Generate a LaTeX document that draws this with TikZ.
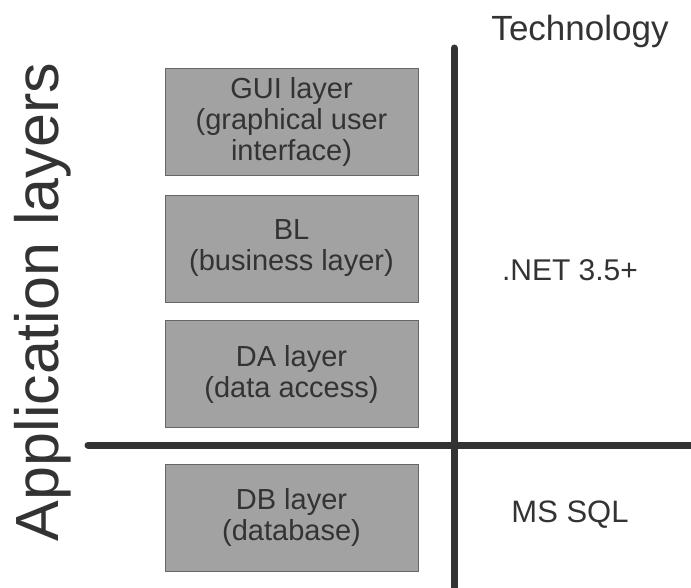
\documentclass[tikz,border=0pt]{standalone}
\usepackage{fontspec}
\setmainfont{Liberation Sans}
\usepackage{xcolor}
\usetikzlibrary{positioning}

\definecolor{layergray}{HTML}{A2A2A2}
\definecolor{inkgray}{HTML}{333333}

\begin{document}
\begin{tikzpicture}[
  x=1pt, y=-1pt,
  layer/.style={draw=inkgray!75, line width=1pt, fill=layergray, minimum width=253pt, minimum height=107pt, align=center, text=inkgray, font=\fontsize{29}{31}\selectfont, inner sep=0pt},
  divider/.style={inkgray, line width=7pt, line cap=round},
  label/.style={text=inkgray, inner sep=0pt},
]
  \useasboundingbox (0,0) rectangle (691,587);

  % Layers
  \node[layer] (gui) at (291.5,121.5) {GUI layer\\(graphical user\\interface)};
  \node[layer] (bl) at (291.5,248.5) {BL\\(business layer)};
  \node[layer] (da) at (291.5,374) {DA layer\\(data access)};
  \node[layer] (db) at (291.5,517.5) {DB layer\\(database)};

  % Dividers
  \coordinate (vtop) at (454,48);
  \coordinate (vbot) at (454,590);
  \coordinate (hleft) at (88,445);
  \coordinate (hright) at (694,445);
  \draw[divider] (vtop) -- (vbot);
  \draw[divider] (hleft) -- (hright);

  % Technology column
  \node[label, font=\fontsize{35}{35}\selectfont] (tech) at (580,31) {Technology};
  \node[label, font=\fontsize{30}{30}\selectfont] (net) at (570,270) {.NET 3.5+};
  \node[label, font=\fontsize{31}{31}\selectfont] (sql) at (570,515) {MS SQL};

  % Side title
  \node[label, rotate=90, anchor=base, font=\fontsize{61}{61}\selectfont] (apps) at (58,302) {Application layers};

\end{tikzpicture}
\end{document}
